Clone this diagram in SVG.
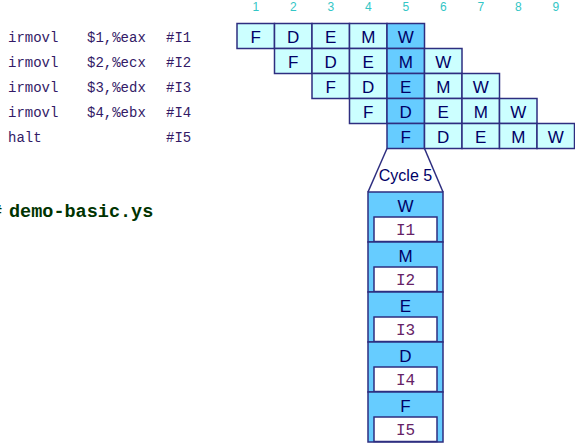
<svg xmlns="http://www.w3.org/2000/svg" width="575" height="444" viewBox="0 0 575 444">
<style>
.code{font-family:"Liberation Mono","DejaVu Sans Mono",monospace;font-size:14px;fill:#331a66}
.num{font-family:"Liberation Sans",Arial,sans-serif;font-size:12px;fill:#33c6c6;text-anchor:middle}
.c{fill:#ccffff;stroke:#2e2e80;stroke-width:1.5}
.d{fill:#66ccff;stroke:#2e2e80;stroke-width:1.5}
.s{font-family:"Liberation Sans",Arial,sans-serif;font-size:17px;fill:#000066;text-anchor:middle}
.wb{fill:#ffffff;stroke:#2e2e80;stroke-width:1.5}
.ins{font-family:"Liberation Mono","DejaVu Sans Mono",monospace;font-size:16px;fill:#662266;text-anchor:middle}
.file{font-family:"Liberation Mono","DejaVu Sans Mono",monospace;font-size:18.5px;font-weight:bold;fill:#003300}
.ln{fill:none;stroke:#2e2e80;stroke-width:1.5}
</style>
<rect width="575" height="444" fill="#ffffff"/>
<g id="code">
<text class="code" x="8" y="41.5">irmovl</text><text class="code" x="87" y="41.5">$1,%eax</text><text class="code" x="166" y="41.5">#I1</text>
<text class="code" x="8" y="66.5">irmovl</text><text class="code" x="87" y="66.5">$2,%ecx</text><text class="code" x="166" y="66.5">#I2</text>
<text class="code" x="8" y="91.5">irmovl</text><text class="code" x="87" y="91.5">$3,%edx</text><text class="code" x="166" y="91.5">#I3</text>
<text class="code" x="8" y="116.5">irmovl</text><text class="code" x="87" y="116.5">$4,%ebx</text><text class="code" x="166" y="116.5">#I4</text>
<text class="code" x="8" y="141.5">halt</text><text class="code" x="166" y="141.5">#I5</text>
</g>
<g id="filename">
<text class="file" x="-9" y="217">#<tspan x="9">demo-basic.ys</tspan></text>
</g>
<g id="cycles">
<text class="num" x="255.75" y="11">1</text><text class="num" x="293.25" y="11">2</text><text class="num" x="330.75" y="11">3</text>
<text class="num" x="368.25" y="11">4</text><text class="num" x="405.75" y="11">5</text><text class="num" x="443.25" y="11">6</text>
<text class="num" x="480.75" y="11">7</text><text class="num" x="518.25" y="11">8</text><text class="num" x="555.75" y="11">9</text>
</g>
<g id="row-I1">
<rect class="c" x="237" y="23.5" width="37.5" height="25"/><text class="s" x="255.75" y="42.5">F</text>
<rect class="c" x="274.5" y="23.5" width="37.5" height="25"/><text class="s" x="293.25" y="42.5">D</text>
<rect class="c" x="312" y="23.5" width="37.5" height="25"/><text class="s" x="330.75" y="42.5">E</text>
<rect class="c" x="349.5" y="23.5" width="37.5" height="25"/><text class="s" x="368.25" y="42.5">M</text>
<rect class="d" x="387" y="23.5" width="37.5" height="25"/><text class="s" x="405.75" y="42.5">W</text>
</g>
<g id="row-I2">
<rect class="c" x="274.5" y="48.5" width="37.5" height="25"/><text class="s" x="293.25" y="67.5">F</text>
<rect class="c" x="312" y="48.5" width="37.5" height="25"/><text class="s" x="330.75" y="67.5">D</text>
<rect class="c" x="349.5" y="48.5" width="37.5" height="25"/><text class="s" x="368.25" y="67.5">E</text>
<rect class="d" x="387" y="48.5" width="37.5" height="25"/><text class="s" x="405.75" y="67.5">M</text>
<rect class="c" x="424.5" y="48.5" width="37.5" height="25"/><text class="s" x="443.25" y="67.5">W</text>
</g>
<g id="row-I3">
<rect class="c" x="312" y="73.5" width="37.5" height="25"/><text class="s" x="330.75" y="92.5">F</text>
<rect class="c" x="349.5" y="73.5" width="37.5" height="25"/><text class="s" x="368.25" y="92.5">D</text>
<rect class="d" x="387" y="73.5" width="37.5" height="25"/><text class="s" x="405.75" y="92.5">E</text>
<rect class="c" x="424.5" y="73.5" width="37.5" height="25"/><text class="s" x="443.25" y="92.5">M</text>
<rect class="c" x="462" y="73.5" width="37.5" height="25"/><text class="s" x="480.75" y="92.5">W</text>
</g>
<g id="row-I4">
<rect class="c" x="349.5" y="98.5" width="37.5" height="25"/><text class="s" x="368.25" y="117.5">F</text>
<rect class="d" x="387" y="98.5" width="37.5" height="25"/><text class="s" x="405.75" y="117.5">D</text>
<rect class="c" x="424.5" y="98.5" width="37.5" height="25"/><text class="s" x="443.25" y="117.5">E</text>
<rect class="c" x="462" y="98.5" width="37.5" height="25"/><text class="s" x="480.75" y="117.5">M</text>
<rect class="c" x="499.5" y="98.5" width="37.5" height="25"/><text class="s" x="518.25" y="117.5">W</text>
</g>
<g id="row-I5">
<rect class="d" x="387" y="123.5" width="37.5" height="25"/><text class="s" x="405.75" y="142.5">F</text>
<rect class="c" x="424.5" y="123.5" width="37.5" height="25"/><text class="s" x="443.25" y="142.5">D</text>
<rect class="c" x="462" y="123.5" width="37.5" height="25"/><text class="s" x="480.75" y="142.5">E</text>
<rect class="c" x="499.5" y="123.5" width="37.5" height="25"/><text class="s" x="518.25" y="142.5">M</text>
<rect class="c" x="537" y="123.5" width="37.5" height="25"/><text class="s" x="555.75" y="142.5">W</text>
</g>
<g id="connectors">
<polyline class="ln" points="387,148.5 368,192"/>
<polyline class="ln" points="424.5,148.5 443,192"/>
</g>
<g id="cycle-label">
<text x="405.5" y="181" font-family="'Liberation Sans',Arial,sans-serif" font-size="16" fill="#000066" text-anchor="middle">Cycle 5</text>
</g>
<g id="stage-W">
<rect class="d" x="368" y="192" width="75" height="50"/><text class="s" x="405.5" y="212">W</text>
<rect class="wb" x="374" y="217" width="63" height="24.5"/><text class="ins" x="405.5" y="235">I1</text>
</g>
<g id="stage-M">
<rect class="d" x="368" y="242" width="75" height="50"/><text class="s" x="405.5" y="262">M</text>
<rect class="wb" x="374" y="267" width="63" height="24.5"/><text class="ins" x="405.5" y="285">I2</text>
</g>
<g id="stage-E">
<rect class="d" x="368" y="292" width="75" height="50"/><text class="s" x="405.5" y="312">E</text>
<rect class="wb" x="374" y="317" width="63" height="24.5"/><text class="ins" x="405.5" y="335">I3</text>
</g>
<g id="stage-D">
<rect class="d" x="368" y="342" width="75" height="50"/><text class="s" x="405.5" y="362">D</text>
<rect class="wb" x="374" y="367" width="63" height="24.5"/><text class="ins" x="405.5" y="385">I4</text>
</g>
<g id="stage-F">
<rect class="d" x="368" y="392" width="75" height="50"/><text class="s" x="405.5" y="412">F</text>
<rect class="wb" x="374" y="417" width="63" height="24.5"/><text class="ins" x="405.5" y="435">I5</text>
</g>
</svg>
